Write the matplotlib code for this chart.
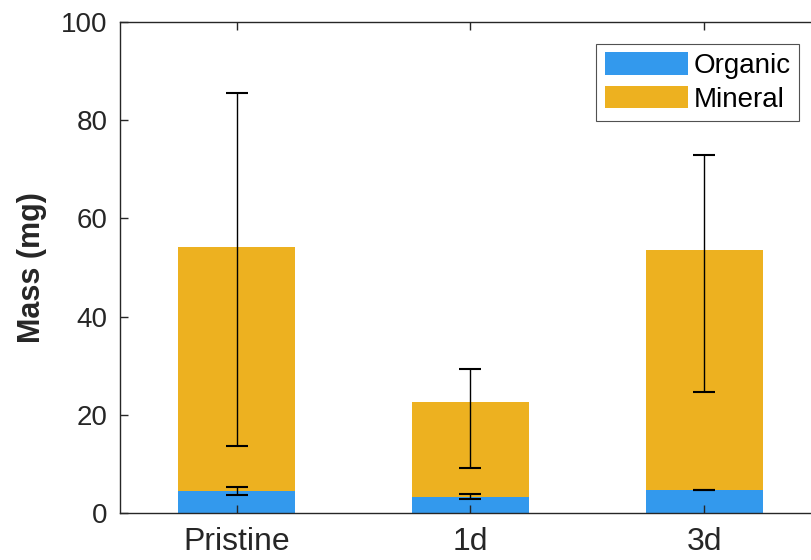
import matplotlib
matplotlib.use("Agg")
import matplotlib.pyplot as plt
import numpy as np

plt.rcParams["font.family"] = ["Liberation Sans", "DejaVu Sans"]

# data
groups = ["Pristine", "1d", "3d"]
organic = [4.56, 3.32, 4.7]
organic_err = [0.82, 0.45, 0.07]
mineral = [49.64, 19.24, 48.84]
mineral_err = [35.9, 10.16, 24.1]

blue = "#3399ed"
orange = "#edb120"
dark = "#262626"

x = np.arange(1, len(groups) + 1)

fig = plt.figure(figsize=(8.12, 5.6), dpi=100)
# right edge of the box falls outside the picture, like the reference
ax = fig.add_axes([120 / 812, 47 / 560, 701 / 812, 491 / 560])

ax.bar(x, organic, width=0.5, color=blue, label="Organic", zorder=1)
ax.bar(x, mineral, width=0.5, bottom=organic, color=orange, label="Mineral", zorder=1)

# error bars sit on the component means, not on the stacked top
ax.errorbar(x, organic, yerr=organic_err, fmt="none", ecolor="black",
            elinewidth=1, capsize=8, capthick=1.5, zorder=3)
ax.errorbar(x, mineral, yerr=mineral_err, fmt="none", ecolor="black",
            elinewidth=1, capsize=8, capthick=1.5, zorder=3)

ax.set_xlim(0.5, 3.5)
ax.set_ylim(0, 100)
ax.set_xticks(x)
ax.set_xticklabels(groups)
ax.set_yticks([0, 20, 40, 60, 80, 100])
ax.set_axisbelow(False)

ax.tick_params(direction="in", length=6, width=1, colors=dark,
               top=True, right=False)
ax.tick_params(axis="x", labelsize=23, pad=10)
ax.tick_params(axis="y", labelsize=20, pad=9)
for s in ax.spines.values():
    s.set_color(dark)
    s.set_linewidth(1)
ax.spines["right"].set_visible(False)

ax.set_ylabel("Mass (mg)", fontsize=22, fontweight="bold", color=dark, labelpad=10)

leg = ax.legend(loc="upper right", bbox_to_anchor=(0.9686, 0.955),
                fontsize=20, frameon=True, fancybox=False, edgecolor=dark,
                handlelength=3.0, handleheight=0.85, handletextpad=0.2,
                labelspacing=0.25, borderpad=0.3, borderaxespad=0)
leg.get_frame().set_linewidth(0.8)

fig.savefig("out.png", dpi=100)
